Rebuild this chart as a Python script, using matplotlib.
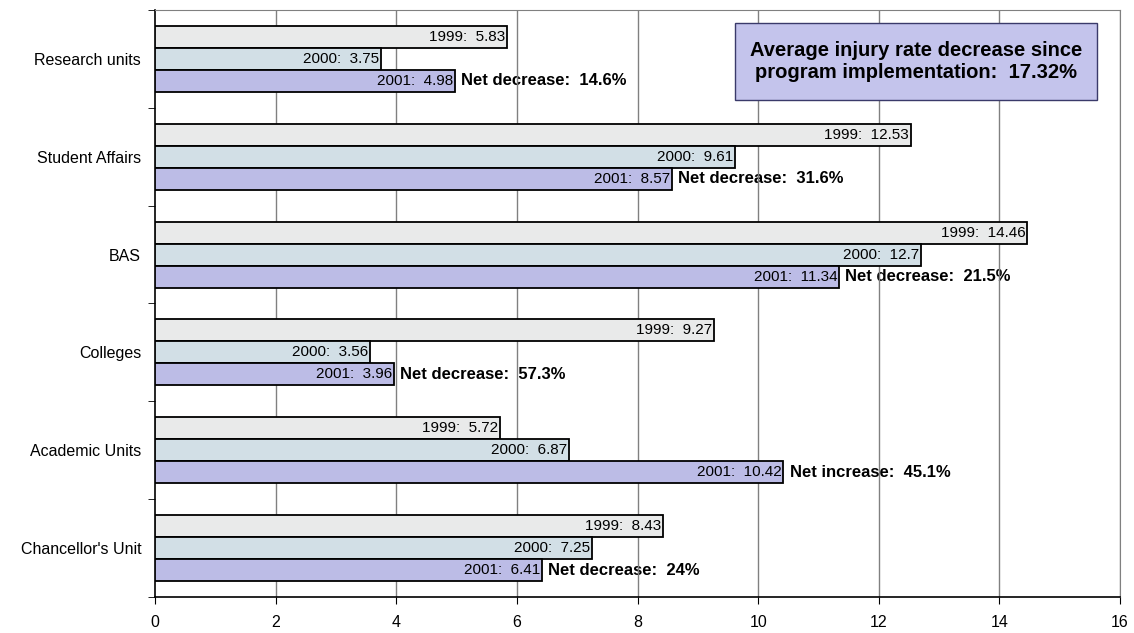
import numpy as np
import matplotlib.pyplot as plt
from matplotlib.patches import Rectangle

plt.rcParams['font.family'] = ['Liberation Sans', 'DejaVu Sans']

units = ["Chancellor's Unit", 'Academic Units', 'Colleges', 'BAS',
         'Student Affairs', 'Research units']
rate_1999 = [8.43, 5.72, 9.27, 14.46, 12.53, 5.83]
rate_2000 = [7.25, 6.87, 3.56, 12.7, 9.61, 3.75]
rate_2001 = [6.41, 10.42, 3.96, 11.34, 8.57, 4.98]
net_text = ['Net decrease:  24%', 'Net increase:  45.1%', 'Net decrease:  57.3%',
            'Net decrease:  21.5%', 'Net decrease:  31.6%', 'Net decrease:  14.6%']
avg_text = 'Average injury rate decrease since\nprogram implementation:  17.32%'

fig = plt.figure(figsize=(11.34, 6.33), dpi=100)
ax = fig.add_axes([0.1367, 0.0569, 0.8510, 0.9273])

y = np.arange(len(units))
h = 0.225
series = [('1999', rate_1999, '#e9eaea', h),
          ('2000', rate_2000, '#d2dfe6', 0.0),
          ('2001', rate_2001, '#bcbce6', -h)]

ax.set_xlim(0, 16)
ax.set_ylim(-0.5, 5.5)

# vertical grid sits over the net labels but under the bars
for gx in np.arange(2, 17, 2):
    ax.axvline(gx, color='#808080', linewidth=1, zorder=2)

for year, vals, col, off in series:
    ax.barh(y + off, vals, height=h, color=col, edgecolor='black',
            linewidth=1.3, zorder=3)
    for yi, v in zip(y, vals):
        ax.text(v - 0.03, yi + off, '%s:  %s' % (year, v), ha='right',
                va='center', fontsize=11, zorder=4)

for yi, v, t in zip(y, rate_2001, net_text):
    ax.text(v + 0.1, yi - h, t, ha='left', va='center', fontsize=12,
            fontweight='bold', zorder=1)

# summary box
ax.add_patch(Rectangle((9.62, 4.58), 6.0, 0.787, facecolor='#c4c4ec',
                       edgecolor='#3a3a6a', linewidth=1, zorder=5))
ax.text(12.62, 4.975, avg_text, ha='center', va='center', fontsize=14.5,
        fontweight='bold', linespacing=1.2, zorder=6)

ax.set_xticks(np.arange(0, 17, 2))
ax.set_yticks(y)
ax.set_yticklabels(units, fontsize=11.5)
ax.set_yticks(np.arange(-0.5, 6, 1), minor=True)
ax.tick_params(axis='y', which='major', length=0, pad=10)
ax.tick_params(axis='y', which='minor', length=5, direction='out')
ax.tick_params(axis='x', length=5, direction='out', labelsize=11.5, pad=8)
for s in ['top', 'right']:
    ax.spines[s].set_color('#808080')
for s in ['left', 'bottom']:
    ax.spines[s].set_color('black')
    ax.spines[s].set_linewidth(1.2)

fig.savefig('out.png', dpi=100)
